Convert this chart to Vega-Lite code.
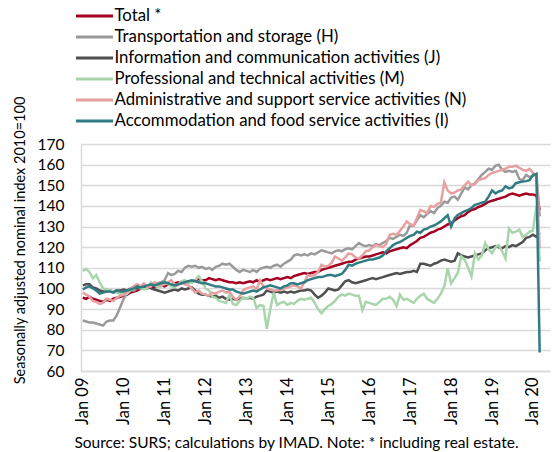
{
  "$schema": "https://vega.github.io/schema/vega-lite/v6.json",
  "width": 469,
  "height": 227,
  "autosize": {"type": "none"},
  "padding": {"left": 81, "top": 144, "right": 2, "bottom": 81},
  "background": "white",
  "config": {"font": "Lato", "view": {"stroke": null}},
  "data": {"values": [
    {"d":"2009-01","T":95.5,"H":84.5,"J":101.5,"M":108.5,"N":98,"I":99.5},
    {"d":"2009-02","T":95,"H":84,"J":102,"M":109.5,"N":97,"I":100.5},
    {"d":"2009-03","T":96,"H":83.5,"J":102,"M":108,"N":96,"I":101},
    {"d":"2009-04","T":95,"H":83.5,"J":100.5,"M":105,"N":94,"I":100},
    {"d":"2009-05","T":94.5,"H":83,"J":100,"M":106.5,"N":93.5,"I":99},
    {"d":"2009-06","T":94,"H":82.5,"J":99,"M":103,"N":92.5,"I":97.5},
    {"d":"2009-07","T":93.5,"H":82,"J":98.5,"M":100,"N":93,"I":98},
    {"d":"2009-08","T":94.5,"H":84,"J":98.5,"M":99.5,"N":95,"I":98.5},
    {"d":"2009-09","T":94,"H":84.5,"J":99,"M":99,"N":94.5,"I":98.5},
    {"d":"2009-10","T":95,"H":84.5,"J":98.5,"M":98.5,"N":94,"I":98},
    {"d":"2009-11","T":95.5,"H":87,"J":99,"M":98,"N":95.5,"I":99},
    {"d":"2009-12","T":96,"H":91,"J":99,"M":97.5,"N":96.5,"I":98.5},
    {"d":"2010-01","T":96.5,"H":95,"J":99.5,"M":98,"N":97,"I":98.5},
    {"d":"2010-02","T":97,"H":98,"J":99,"M":97.5,"N":98.5,"I":99},
    {"d":"2010-03","T":98,"H":99.5,"J":100,"M":99,"N":100,"I":99.5},
    {"d":"2010-04","T":98.5,"H":99,"J":100.5,"M":100,"N":101,"I":100},
    {"d":"2010-05","T":99,"H":100,"J":100,"M":101.5,"N":102,"I":101},
    {"d":"2010-06","T":100,"H":100.5,"J":101,"M":100,"N":101,"I":100.5},
    {"d":"2010-07","T":100.5,"H":101,"J":100.5,"M":99.5,"N":102.5,"I":101},
    {"d":"2010-08","T":100,"H":100.5,"J":101,"M":100,"N":100.5,"I":101.5},
    {"d":"2010-09","T":101,"H":101.5,"J":100,"M":103,"N":101,"I":102},
    {"d":"2010-10","T":100.5,"H":102,"J":99.5,"M":101.5,"N":103,"I":101.5},
    {"d":"2010-11","T":101,"H":102.5,"J":99,"M":100.5,"N":102,"I":102},
    {"d":"2010-12","T":101.5,"H":103,"J":98.5,"M":101,"N":101.5,"I":102.5},
    {"d":"2011-01","T":101,"H":104,"J":98,"M":103,"N":102,"I":103},
    {"d":"2011-02","T":102,"H":107.5,"J":98.5,"M":102,"N":103,"I":102.5},
    {"d":"2011-03","T":101.5,"H":106.5,"J":99,"M":101,"N":104,"I":102},
    {"d":"2011-04","T":102.5,"H":107,"J":99.5,"M":100.5,"N":102,"I":101.5},
    {"d":"2011-05","T":103,"H":108.5,"J":99,"M":102,"N":101.5,"I":102},
    {"d":"2011-06","T":102.5,"H":108,"J":100,"M":103.5,"N":103,"I":102.5},
    {"d":"2011-07","T":103,"H":110,"J":99.5,"M":104,"N":102,"I":103},
    {"d":"2011-08","T":103.5,"H":111,"J":100,"M":102.5,"N":101.5,"I":103.5},
    {"d":"2011-09","T":103,"H":110.5,"J":100.5,"M":103,"N":100,"I":104},
    {"d":"2011-10","T":104,"H":111,"J":99,"M":104,"N":98,"I":103.5},
    {"d":"2011-11","T":104.5,"H":110,"J":97.5,"M":106,"N":99,"I":103},
    {"d":"2011-12","T":104,"H":110.5,"J":97,"M":103.5,"N":97.5,"I":102.5},
    {"d":"2012-01","T":104,"H":109.5,"J":97,"M":100,"N":97,"I":102.5},
    {"d":"2012-02","T":105,"H":110,"J":96.5,"M":99,"N":96.5,"I":102},
    {"d":"2012-03","T":104.5,"H":109,"J":96,"M":96,"N":98,"I":101.5},
    {"d":"2012-04","T":104,"H":110.5,"J":96.5,"M":95.5,"N":97.5,"I":101},
    {"d":"2012-05","T":104.5,"H":111,"J":95.5,"M":94,"N":98.5,"I":101},
    {"d":"2012-06","T":104,"H":112,"J":96,"M":93.5,"N":99,"I":100.5},
    {"d":"2012-07","T":103.5,"H":111.5,"J":95,"M":93,"N":98,"I":100},
    {"d":"2012-08","T":103,"H":112,"J":94.5,"M":97,"N":98.5,"I":99.5},
    {"d":"2012-09","T":103,"H":110.5,"J":95,"M":92.5,"N":96,"I":99.5},
    {"d":"2012-10","T":102.5,"H":109,"J":94.5,"M":92,"N":94.5,"I":98.5},
    {"d":"2012-11","T":103,"H":108,"J":95,"M":94,"N":96,"I":98},
    {"d":"2012-12","T":102.5,"H":109,"J":95.5,"M":95.5,"N":99,"I":97.5},
    {"d":"2013-01","T":103,"H":108.5,"J":95,"M":95,"N":100,"I":98},
    {"d":"2013-02","T":103.5,"H":108,"J":95.5,"M":96,"N":100.5,"I":98.5},
    {"d":"2013-03","T":103,"H":109,"J":95,"M":95.5,"N":101,"I":99},
    {"d":"2013-04","T":104,"H":108,"J":96,"M":90.5,"N":99.5,"I":98.5},
    {"d":"2013-05","T":103,"H":109.5,"J":96.5,"M":92,"N":104,"I":99.5},
    {"d":"2013-06","T":104,"H":110,"J":97,"M":91.5,"N":101,"I":100.5},
    {"d":"2013-07","T":104.5,"H":110.5,"J":99,"M":80.5,"N":100,"I":101},
    {"d":"2013-08","T":104,"H":110,"J":98.5,"M":90,"N":99.5,"I":101.5},
    {"d":"2013-09","T":104.5,"H":111,"J":98,"M":98,"N":99,"I":101},
    {"d":"2013-10","T":105,"H":111.5,"J":98.5,"M":92,"N":99,"I":100.5},
    {"d":"2013-11","T":104.5,"H":110.5,"J":98,"M":93,"N":99.5,"I":100},
    {"d":"2013-12","T":105,"H":112,"J":98.5,"M":93.5,"N":100,"I":101},
    {"d":"2014-01","T":105.5,"H":113,"J":98,"M":92,"N":100.5,"I":101.5},
    {"d":"2014-02","T":105,"H":114,"J":98.5,"M":93,"N":101,"I":102.5},
    {"d":"2014-03","T":106,"H":116,"J":98,"M":92.5,"N":101.5,"I":102.5},
    {"d":"2014-04","T":106.5,"H":116.5,"J":98.5,"M":94,"N":101,"I":102},
    {"d":"2014-05","T":107,"H":116,"J":99,"M":95,"N":100,"I":102.5},
    {"d":"2014-06","T":107.5,"H":116.5,"J":99,"M":94.5,"N":103,"I":103},
    {"d":"2014-07","T":107,"H":116,"J":99.5,"M":95,"N":106.5,"I":104},
    {"d":"2014-08","T":107.5,"H":117,"J":99,"M":95.5,"N":106,"I":104.5},
    {"d":"2014-09","T":108,"H":116.5,"J":97,"M":93,"N":106.5,"I":105},
    {"d":"2014-10","T":108,"H":117.5,"J":95.5,"M":90,"N":108,"I":105.5},
    {"d":"2014-11","T":109,"H":118.5,"J":96.5,"M":88,"N":111.5,"I":105.5},
    {"d":"2014-12","T":109.5,"H":118,"J":98,"M":90,"N":110.5,"I":106},
    {"d":"2015-01","T":110,"H":117.5,"J":100,"M":91.5,"N":111,"I":106.5},
    {"d":"2015-02","T":110.5,"H":117,"J":99.5,"M":92.5,"N":112.5,"I":106.5},
    {"d":"2015-03","T":111,"H":118,"J":99,"M":94,"N":115.5,"I":106},
    {"d":"2015-04","T":111.5,"H":118.5,"J":99.5,"M":96,"N":114.5,"I":106.5},
    {"d":"2015-05","T":112,"H":118,"J":101.5,"M":97,"N":113.5,"I":107},
    {"d":"2015-06","T":112.5,"H":119,"J":103.5,"M":96.5,"N":115,"I":109},
    {"d":"2015-07","T":113,"H":119.5,"J":104,"M":97.5,"N":117,"I":111.5},
    {"d":"2015-08","T":113,"H":119,"J":103,"M":97,"N":116.5,"I":111},
    {"d":"2015-09","T":114,"H":120.5,"J":102.5,"M":96.5,"N":115,"I":112},
    {"d":"2015-10","T":114.5,"H":122,"J":103,"M":96.5,"N":114.5,"I":112.5},
    {"d":"2015-11","T":115,"H":121,"J":103.5,"M":89.5,"N":116,"I":113},
    {"d":"2015-12","T":115.5,"H":120.5,"J":104,"M":93.5,"N":118,"I":113.5},
    {"d":"2016-01","T":115.5,"H":121,"J":104.5,"M":93,"N":118.5,"I":114},
    {"d":"2016-02","T":116,"H":120.5,"J":105,"M":92.5,"N":120,"I":114},
    {"d":"2016-03","T":116.5,"H":121.5,"J":104.5,"M":92,"N":121,"I":114.5},
    {"d":"2016-04","T":117,"H":121,"J":105,"M":93.5,"N":120.5,"I":115},
    {"d":"2016-05","T":117.5,"H":122,"J":105.5,"M":95,"N":120,"I":116},
    {"d":"2016-06","T":117,"H":123,"J":106,"M":95,"N":121.5,"I":118},
    {"d":"2016-07","T":118,"H":124.5,"J":106.5,"M":96,"N":126,"I":119.5},
    {"d":"2016-08","T":118.5,"H":124,"J":107,"M":94.5,"N":126.5,"I":121},
    {"d":"2016-09","T":119,"H":125,"J":107.5,"M":91.5,"N":126,"I":122},
    {"d":"2016-10","T":119.5,"H":126,"J":107,"M":97,"N":128,"I":122.5},
    {"d":"2016-11","T":120,"H":125.5,"J":107.5,"M":94.5,"N":130,"I":123.5},
    {"d":"2016-12","T":119.5,"H":127,"J":108,"M":95,"N":132.5,"I":124.5},
    {"d":"2017-01","T":121,"H":131,"J":108,"M":94,"N":131,"I":125.5},
    {"d":"2017-02","T":122,"H":130.5,"J":108.5,"M":93,"N":130.5,"I":126},
    {"d":"2017-03","T":123,"H":133,"J":108,"M":95,"N":134,"I":127.5},
    {"d":"2017-04","T":124.5,"H":135.5,"J":112,"M":96.5,"N":138,"I":127},
    {"d":"2017-05","T":125,"H":134.5,"J":112,"M":97.5,"N":137.5,"I":128.5},
    {"d":"2017-06","T":126,"H":136,"J":111.5,"M":95,"N":136.5,"I":129},
    {"d":"2017-07","T":127,"H":137.5,"J":111,"M":94,"N":140,"I":130},
    {"d":"2017-08","T":127.5,"H":136.5,"J":112,"M":93,"N":139.5,"I":130.5},
    {"d":"2017-09","T":128.5,"H":139,"J":112.5,"M":95,"N":141,"I":131.5},
    {"d":"2017-10","T":129,"H":140,"J":113.5,"M":97.5,"N":141.5,"I":132.5},
    {"d":"2017-11","T":130,"H":142,"J":114,"M":101,"N":151.5,"I":134},
    {"d":"2017-12","T":131,"H":141.5,"J":113.5,"M":109.8,"N":147.5,"I":135.5},
    {"d":"2018-01","T":131.5,"H":144,"J":113,"M":102.5,"N":146,"I":130},
    {"d":"2018-02","T":133,"H":144.5,"J":113.5,"M":105,"N":146.5,"I":134},
    {"d":"2018-03","T":134,"H":143,"J":117,"M":107.5,"N":147.5,"I":135.6},
    {"d":"2018-04","T":135,"H":146,"J":116,"M":115.5,"N":148,"I":136.5},
    {"d":"2018-05","T":135.5,"H":149,"J":115.5,"M":114,"N":150,"I":137.5},
    {"d":"2018-06","T":137,"H":148,"J":115,"M":110,"N":151.8,"I":138},
    {"d":"2018-07","T":138,"H":150,"J":115.5,"M":105.8,"N":150,"I":139},
    {"d":"2018-08","T":138.5,"H":151,"J":116,"M":117,"N":150.5,"I":140.5},
    {"d":"2018-09","T":139.5,"H":153,"J":116.5,"M":114,"N":152.5,"I":141},
    {"d":"2018-10","T":140,"H":155,"J":117,"M":116,"N":153,"I":141.5},
    {"d":"2018-11","T":141,"H":156.5,"J":118.5,"M":122,"N":153.5,"I":142},
    {"d":"2018-12","T":142,"H":158,"J":119.5,"M":119,"N":155,"I":144.5},
    {"d":"2019-01","T":142.5,"H":157.5,"J":120,"M":117,"N":156,"I":147.5},
    {"d":"2019-02","T":143,"H":159.5,"J":120.5,"M":120,"N":156.5,"I":146},
    {"d":"2019-03","T":143.5,"H":160,"J":120,"M":121,"N":157,"I":147},
    {"d":"2019-04","T":144,"H":157.5,"J":119.5,"M":118,"N":157.5,"I":147.5},
    {"d":"2019-05","T":144.5,"H":156.5,"J":120.5,"M":114.5,"N":158,"I":149.5},
    {"d":"2019-06","T":145.5,"H":157,"J":120,"M":129,"N":159,"I":148.5},
    {"d":"2019-07","T":146,"H":156.5,"J":121,"M":127,"N":159,"I":149},
    {"d":"2019-08","T":145.5,"H":157,"J":120.5,"M":127.5,"N":159.5,"I":151},
    {"d":"2019-09","T":145,"H":153,"J":121.5,"M":128.5,"N":158.5,"I":151.5},
    {"d":"2019-10","T":145.5,"H":152.5,"J":122.5,"M":125,"N":157.5,"I":151.8},
    {"d":"2019-11","T":146,"H":155,"J":124.5,"M":126,"N":157,"I":152},
    {"d":"2019-12","T":145.5,"H":154,"J":125,"M":127.5,"N":158,"I":152.5},
    {"d":"2020-01","T":145.5,"H":154.5,"J":126,"M":128,"N":156,"I":155},
    {"d":"2020-02","T":145,"H":155.5,"J":125,"M":140,"N":154.5,"I":155.5},
    {"d":"2020-03","T":138,"H":135,"J":127,"M":113,"N":119.5,"I":69}
  ]},
  "transform": [{"fold": ["T", "H", "J", "M", "N", "I"], "as": ["s", "v"]}],
  "mark": {"type": "line", "strokeWidth": 2.5, "interpolate": "linear"},
  "encoding": {
    "x": {
      "field": "d", "type": "temporal",
      "scale": {"type": "utc", "domain": [{"year": 2008, "month": 12, "date": 16, "utc": true}, {"year": 2020, "month": 6, "date": 1, "utc": true}]},
      "axis": {
        "title": "Source:  SURS; calculations by IMAD. Note: * including real estate.",
        "titleFontSize": 15.5, "titleFontWeight": "normal", "titleColor": "#000",
        "titleX": 215, "titleY": 76, "titleAlign": "center", "titleBaseline": "alphabetic", "titleAnchor": null,
        "values": [
          {"year": 2009, "month": 1, "date": 1, "utc": true},
          {"year": 2010, "month": 1, "date": 1, "utc": true},
          {"year": 2011, "month": 1, "date": 1, "utc": true},
          {"year": 2012, "month": 1, "date": 1, "utc": true},
          {"year": 2013, "month": 1, "date": 1, "utc": true},
          {"year": 2014, "month": 1, "date": 1, "utc": true},
          {"year": 2015, "month": 1, "date": 1, "utc": true},
          {"year": 2016, "month": 1, "date": 1, "utc": true},
          {"year": 2017, "month": 1, "date": 1, "utc": true},
          {"year": 2018, "month": 1, "date": 1, "utc": true},
          {"year": 2019, "month": 1, "date": 1, "utc": true},
          {"year": 2020, "month": 1, "date": 1, "utc": true}
        ],
        "labelExpr": "utcFormat(datum.value, '%b %y')",
        "labelAngle": 270, "labelFontSize": 16.5, "labelColor": "#000",
        "labelPadding": 6, "labelFlush": false, "labelOverlap": false, "labelBound": false,
        "ticks": false, "grid": false,
        "domainColor": "#D9D9D9", "domainWidth": 1.5
      }
    },
    "y": {
      "field": "v", "type": "quantitative",
      "scale": {"domain": [60, 170], "nice": false, "zero": false},
      "axis": {
        "title": "Seasonally adjusted nominal index 2010=100",
        "values": [60, 70, 80, 90, 100, 110, 120, 130, 140, 150, 160, 170],
        "labelFontSize": 15.5, "labelColor": "#000", "labelPadding": 17,
        "ticks": false,
        "gridColor": "#D9D9D9", "gridWidth": 1.5,
        "domainColor": "#D9D9D9", "domainWidth": 1.5,
        "titleFontSize": 14.5, "titleFontWeight": "normal", "titleColor": "#000",
        "titleX": -61, "titleY": 96, "titleAngle": 270, "titleAlign": "center", "titleBaseline": "middle"
      }
    },
    "color": {
      "field": "s", "type": "nominal",
      "scale": {"domain": ["T", "H", "J", "M", "N", "I"], "range": ["#A50021", "#9A9A9A", "#505050", "#A8D5AC", "#E6A0A0", "#2F7C84"]},
      "legend": {
        "orient": "none", "direction": "vertical", "legendX": -6.5, "legendY": -138.5,
        "title": null, "padding": 0,
        "symbolType": "stroke", "symbolSize": 1369, "symbolStrokeWidth": 3,
        "labelFontSize": 16.8, "labelColor": "#000", "labelOffset": 0, "labelLimit": 500,
        "clipHeight": 21, "rowPadding": 0,
        "labelExpr": "{'T': 'Total *', 'H': 'Transportation and storage (H)', 'J': 'Information and communication activities (J)', 'M': 'Professional and technical activities (M)', 'N': 'Administrative and support service activities (N)', 'I': 'Accommodation and food service activities (I)'}[datum.value]"
      }
    }
  }
}
